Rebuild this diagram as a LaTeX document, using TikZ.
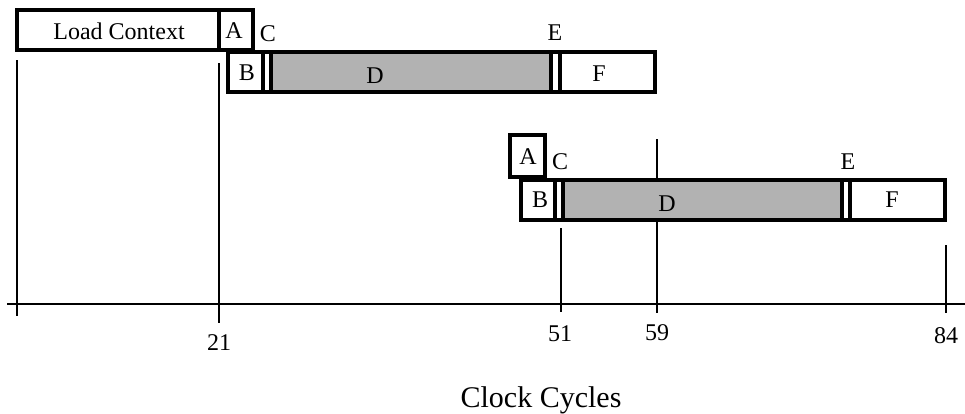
\documentclass[tikz,border=0pt]{standalone}
\usepackage{fontspec}
\setmainfont{Liberation Serif}

\tikzset{
  stage/.style={draw, line width=2.4pt},
  busy/.style={stage, fill=black!30},
  marker/.style={line width=1.6pt},
  lbl/.style={font=\fontsize{18}{20}\selectfont, inner sep=0pt},
}

\begin{document}
\begin{tikzpicture}[x=0.75pt,y=-0.75pt]
  \useasboundingbox (0,0) rectangle (965,414);

  % time markers and axis
  \draw[marker] (17,60) -- (17,316);
  \draw[marker] (219,63) -- (219,323);
  \draw[marker] (561,228) -- (561,312);
  \draw[marker] (657,139) -- (657,313);
  \draw[marker] (946,245) -- (946,313);
  \draw[marker] (7,304) -- (965,304);

  % first thread
  \draw[stage] (17,10) rectangle (219,50);
  \draw[stage] (219,10) rectangle (253,50);
  \draw[stage] (228,52) rectangle (263,92);
  \draw[stage] (263,52) rectangle (271,92);
  \draw[busy]  (271,52) rectangle (551,92);
  \draw[stage] (551,52) rectangle (560,92);
  \draw[stage] (560,52) rectangle (655,92);
  \node[lbl] (load) at (119,31) {Load Context};
  \node[lbl] (a1) at (234,31) {A};
  \node[lbl] (b1) at (247,73) {B};
  \node[lbl] (c1) at (268,34) {C};
  \node[lbl] (d1) at (375,76) {D};
  \node[lbl] (e1) at (555,33) {E};
  \node[lbl] (f1) at (599,74) {F};

  % second thread
  \draw[stage] (510,135) rectangle (545,177);
  \draw[stage] (521,180) rectangle (555,220);
  \draw[stage] (555,180) rectangle (563,220);
  \draw[busy]  (563,180) rectangle (842,220);
  \draw[stage] (842,180) rectangle (850,220);
  \draw[stage] (850,180) rectangle (945,220);
  \node[lbl] (a2) at (528,157) {A};
  \node[lbl] (b2) at (540,200) {B};
  \node[lbl] (c2) at (560,162) {C};
  \node[lbl] (d2) at (667,204) {D};
  \node[lbl] (e2) at (848,162) {E};
  \node[lbl] (f2) at (892,200) {F};

  % cycle counts
  \node[lbl] (t21) at (219,343) {21};
  \node[lbl] (t51) at (560,334) {51};
  \node[lbl] (t59) at (657,333) {59};
  \node[lbl] (t84) at (946,336) {84};
  \node[lbl, font=\fontsize{22.5}{24}\selectfont, anchor=base] (cycles) at (541,407) {Clock Cycles};
\end{tikzpicture}
\end{document}
